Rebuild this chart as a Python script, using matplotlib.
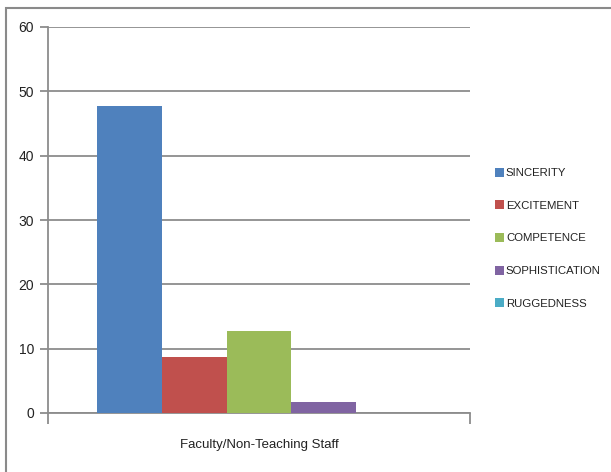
import matplotlib
matplotlib.use("Agg")
import matplotlib.pyplot as plt
from matplotlib.patches import Rectangle, Patch

# Brand personality dimensions for one respondent group
categories = ["Faculty/Non-Teaching Staff"]
series_names = ["SINCERITY", "EXCITEMENT", "COMPETENCE", "SOPHISTICATION", "RUGGEDNESS"]
series_values = [47.7, 8.7, 12.8, 1.7, 0.0]
colors = ["#4F81BD", "#C0504D", "#9BBB59", "#8064A2", "#4BACC6"]
y_ticks = [0, 10, 20, 30, 40, 50, 60]

plt.rcParams["font.family"] = ["Liberation Sans", "DejaVu Sans"]

fig = plt.figure(figsize=(6.11, 4.72), dpi=100)
fig.patch.set_facecolor("white")

# Outer chart frame running off the right and bottom edges
fig.patches.append(Rectangle((6 / 611, -0.2), 1.2, 1.2 - 8 / 472,
                             transform=fig.transFigure, fill=False,
                             edgecolor="#8a8a8a", linewidth=1.5, zorder=0))

ax = fig.add_axes([48 / 611, 1 - 413 / 472, 422 / 611, (413 - 27) / 472])

n = len(series_names)
group_width = 0.77
bar_w = group_width / n
for i, (name, val, col) in enumerate(zip(series_names, series_values, colors)):
    x = -group_width / 2 + bar_w * (i + 0.5)
    ax.bar(x, val, width=bar_w, color=col, label=name, zorder=3, linewidth=0)

ax.set_xlim(-0.5, 0.5)
ax.set_ylim(0, 60)
ax.set_yticks(y_ticks)
ax.yaxis.grid(True, color="#8c8c8c", linewidth=1.3, zorder=0)
ax.set_axisbelow(True)

for s in ["top", "right"]:
    ax.spines[s].set_visible(False)
for s in ["left", "bottom"]:
    ax.spines[s].set_color("#8c8c8c")
    ax.spines[s].set_linewidth(1.3)

ax.tick_params(axis="y", direction="out", length=6, color="#8c8c8c",
               width=1.3, labelsize=10, pad=4, labelcolor="#222222")
ax.set_xticks([-0.5, 0.5])
ax.set_xticklabels(["", ""])
ax.tick_params(axis="x", which="major", direction="out", length=8,
               color="#8c8c8c", width=1.3)
ax.set_xticks([0], minor=True)
ax.set_xticklabels(categories, minor=True)
ax.tick_params(axis="x", which="minor", length=0, labelsize=9.5, pad=19,
               labelcolor="#222222")

handles = [Patch(facecolor=c, edgecolor="none") for c in colors]
fig.legend(handles, series_names, loc="upper left",
           bbox_to_anchor=(490 / 611, 1 - 163 / 472), frameon=False,
           handlelength=0.85, handleheight=0.85, handletextpad=0.15,
           labelspacing=1.95, fontsize=8.2, labelcolor="#222222",
           borderaxespad=0)

fig.savefig("out.png", dpi=100, facecolor="white")
